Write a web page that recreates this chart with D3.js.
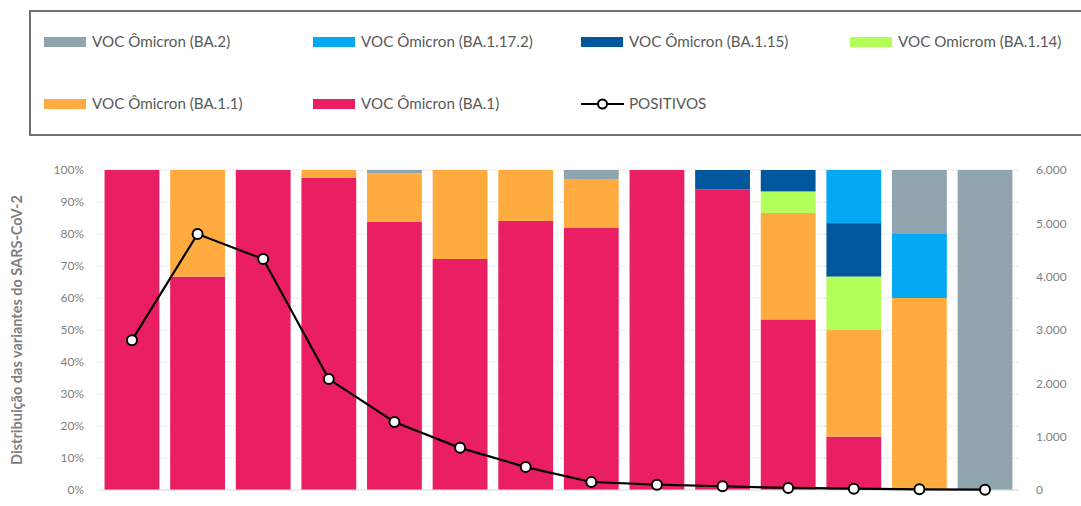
<!DOCTYPE html>
<html>
<head>
<meta charset="utf-8">
<script src="https://cdnjs.cloudflare.com/ajax/libs/d3/7.8.5/d3.min.js"></script>
<style>
  body { margin:0; background:#fff; }
  svg { display:block; font-family: Lato, "Noto Sans", sans-serif; }
</style>
</head>
<body>
<div id="chart"></div>
<script>
// periods (x categories have no labels in the original)
var periods = d3.range(1, 15);

// variant shares (%) per bar, stacked bottom to top
var ba1     = [100, 66.7, 100, 97.5, 83.8, 72.2, 84.1, 82.0, 100, 94.0, 53.3, 16.7, 0, 0];
var ba11    = [0, 33.3, 0, 2.5, 15.2, 27.8, 15.9, 15.2, 0, 0, 33.3, 33.3, 60, 0];
var ba114   = [0, 0, 0, 0, 0, 0, 0, 0, 0, 0, 6.7, 16.7, 0, 0];
var ba115   = [0, 0, 0, 0, 0, 0, 0, 0, 0, 6.0, 6.7, 16.7, 0, 0];
var ba1172  = [0, 0, 0, 0, 0, 0, 0, 0, 0, 0, 0, 16.6, 20, 0];
var ba2     = [0, 0, 0, 0, 1.0, 0, 0, 2.8, 0, 0, 0, 0, 20, 100];

// positive tests (right axis)
var positivos = [2810, 4800, 4330, 2080, 1275, 790, 430, 150, 100, 70, 38, 25, 12, 6];

var leftTicks = d3.range(0, 101, 10);
var rightTicks = [0, 1000, 2000, 3000, 4000, 5000, 6000];

var series = [
  {key:'ba1',    name:'VOC Ômicron (BA.1)',      color:'#e91e63', values:ba1},
  {key:'ba11',   name:'VOC Ômicron (BA.1.1)',    color:'#ffab40', values:ba11},
  {key:'ba114',  name:'VOC Omicrom (BA.1.14)',   color:'#b2ff59', values:ba114},
  {key:'ba115',  name:'VOC Ômicron (BA.1.15)',   color:'#01579b', values:ba115},
  {key:'ba1172', name:'VOC Ômicron (BA.1.17.2)', color:'#03a9f4', values:ba1172},
  {key:'ba2',    name:'VOC Ômicron (BA.2)',      color:'#90a4ae', values:ba2}
];

var W = 1081, H = 506;
var margin = {left:98, right:62, top:170, bottom:16};
var svg = d3.select('#chart').append('svg').attr('width', W).attr('height', H);

// legend box
svg.append('rect')
  .attr('x', 30).attr('y', 11).attr('width', 1070).attr('height', 124)
  .attr('fill', 'none').attr('stroke', '#6f6f6f').attr('stroke-width', 2);

var legendItems = [
  {name:'VOC Ômicron (BA.2)', color:'#90a4ae', col:0, row:0},
  {name:'VOC Ômicron (BA.1.17.2)', color:'#03a9f4', col:1, row:0},
  {name:'VOC Ômicron (BA.1.15)', color:'#01579b', col:2, row:0},
  {name:'VOC Omicrom (BA.1.14)', color:'#b2ff59', col:3, row:0},
  {name:'VOC Ômicron (BA.1.1)', color:'#ffab40', col:0, row:1},
  {name:'VOC Ômicron (BA.1)', color:'#e91e63', col:1, row:1},
  {name:'POSITIVOS', line:true, col:2, row:1}
];
var colX = [44, 313, 581, 850], rowY = [42, 104];
var lg = svg.append('g');
legendItems.forEach(function(d) {
  var x = colX[d.col], y = rowY[d.row];
  if (d.line) {
    lg.append('line').attr('x1', x).attr('x2', x + 43).attr('y1', y).attr('y2', y)
      .attr('stroke', '#000').attr('stroke-width', 2);
    lg.append('circle').attr('cx', x + 21.5).attr('cy', y).attr('r', 4.5)
      .attr('fill', '#fff').attr('stroke', '#000').attr('stroke-width', 2);
  } else {
    lg.append('rect').attr('x', x).attr('y', y - 5).attr('width', 42).attr('height', 10)
      .attr('fill', d.color);
  }
  lg.append('text').attr('x', x + 48).attr('y', y).attr('dy', '0.35em')
    .attr('font-size', 15.2).attr('fill', '#595959').text(d.name);
});

var x = d3.scaleBand().domain(periods)
  .range([margin.left, W - margin.right]).paddingInner(0.165).paddingOuter(0.1);
var y = d3.scaleLinear().domain([0, 100]).range([H - margin.bottom, margin.top]);
var y2 = d3.scaleLinear().domain([0, 6000]).range([H - margin.bottom, margin.top]);

// gridlines
svg.append('g').selectAll('line').data(leftTicks.slice(1)).join('line')
  .attr('x1', margin.left).attr('x2', W - margin.right)
  .attr('y1', function(d) { return y(d); }).attr('y2', function(d) { return y(d); })
  .attr('stroke', '#d9d9d9').attr('stroke-dasharray', '1.5,1.5');

// stacked bars
var rows = periods.map(function(p, i) {
  var r = {period:p};
  series.forEach(function(s) { r[s.key] = s.values[i]; });
  return r;
});
var stack = d3.stack().keys(series.map(function(s) { return s.key; }))(rows);
svg.append('g').selectAll('g').data(stack).join('g')
  .attr('fill', function(d, i) { return series[i].color; })
  .selectAll('rect').data(function(d) { return d; }).join('rect')
  .attr('x', function(d) { return x(d.data.period); })
  .attr('width', x.bandwidth())
  .attr('y', function(d) { return y(d[1]); })
  .attr('height', function(d) { return y(d[0]) - y(d[1]); });

// baseline
svg.append('line').attr('x1', margin.left).attr('x2', W - margin.right)
  .attr('y1', y(0)).attr('y2', y(0)).attr('stroke', '#d9d9d9').attr('stroke-width', 1.2);

// left axis
var la = svg.append('g').attr('transform', 'translate(' + (margin.left - 11) + ',0)')
  .call(d3.axisLeft(y).tickValues(leftTicks).tickSize(0).tickFormat(function(d) { return d + '%'; }));
la.select('.domain').remove();
la.selectAll('text').attr('font-size', 12).attr('fill', '#7f7f7f').attr('font-family', 'Lato, sans-serif');

// right axis
var ra = svg.append('g').attr('transform', 'translate(' + (W - margin.right + 14) + ',0)')
  .call(d3.axisRight(y2).tickValues(rightTicks).tickSize(0)
    .tickFormat(function(d) { return d3.format(',')(d).replace(/,/g, '.'); }));
ra.select('.domain').remove();
ra.selectAll('text').attr('font-size', 12).attr('fill', '#7f7f7f').attr('font-family', 'Lato, sans-serif');

// y title
svg.append('text')
  .attr('transform', 'translate(22,' + ((y(0) + y(100)) / 2) + ') rotate(-90)')
  .attr('text-anchor', 'middle').attr('font-size', 14.5).attr('font-weight', 'bold')
  .attr('fill', '#7f7f7f').text('Distribuição das variantes do SARS-CoV-2');

// POSITIVOS line
var cx = function(d, i) { return x(periods[i]) + x.bandwidth() / 2; };
svg.append('path').datum(positivos)
  .attr('fill', 'none').attr('stroke', '#000').attr('stroke-width', 2.2)
  .attr('d', d3.line().x(cx).y(function(d) { return y2(d); }));
svg.append('g').selectAll('circle').data(positivos).join('circle')
  .attr('cx', cx).attr('cy', function(d) { return y2(d); }).attr('r', 5)
  .attr('fill', '#fff').attr('stroke', '#000').attr('stroke-width', 2);
</script>
</body>
</html>
